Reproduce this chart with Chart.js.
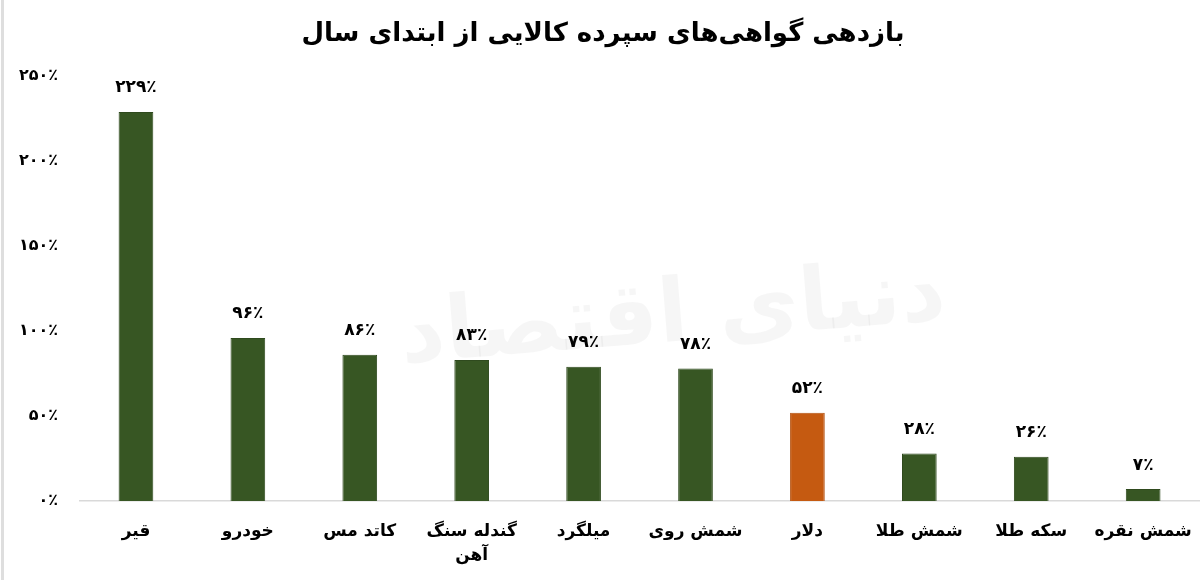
<!DOCTYPE html>
<html lang="fa">
<head>
<meta charset="utf-8">
<script src="https://cdn.jsdelivr.net/npm/chart.js@4.4.1/dist/chart.umd.min.js"></script>
<style>
  html, body { margin: 0; padding: 0; background: #ffffff; overflow: hidden; }
  #wrap { position: absolute; left: 0; top: 0; width: 1210px; height: 580px; }
</style>
</head>
<body>
<div id="wrap"><canvas id="c"></canvas></div>
<script>
// ---- data ----
const chartTitle = 'بازدهی گواهی‌های سپرده کالایی از ابتدای سال';
const categories = ['قیر', 'خودرو', 'کاتد مس', ['گندله سنگ', 'آهن'], 'میلگرد', 'شمش روی', 'دلار', 'شمش طلا', 'سکه طلا', 'شمش نقره'];
const values = [229, 96, 86, 83, 79, 78, 52, 28, 26, 7];
const highlightCategory = 'دلار';
const yTickValues = [0, 50, 100, 150, 200, 250];
const watermarkText = 'دنیای اقتصاد';

// ---- helpers ----
const FA_DIGITS = '۰۱۲۳۴۵۶۷۸۹';
function toFa(n) { return String(n).replace(/\d/g, d => FA_DIGITS[d]); }
function pct(n) { return toFa(n) + '٪'; }

const FONT = "'DejaVu Sans', 'Noto Sans', sans-serif";
const GREEN = '#375623';
const ORANGE = '#C55A11';

const barColors = categories.map(c => (c === highlightCategory ? ORANGE : GREEN));
const barBorders = categories.map(c => (c === highlightCategory ? '#b2500f' : '#2f4a1e'));

const decorPlugin = {
  id: 'decor',
  beforeDraw(chart) {
    const ctx = chart.ctx;
    ctx.save();
    ctx.fillStyle = '#ffffff';
    ctx.fillRect(0, 0, chart.width, chart.height);
    ctx.fillStyle = '#dedede';
    ctx.fillRect(1, 0, 3, chart.height);
    ctx.restore();
  },
  beforeDatasetsDraw(chart) {
    const ctx = chart.ctx;
    const a = chart.chartArea;
    ctx.save();
    ctx.fillStyle = 'rgba(0,0,0,0.035)';
    ctx.font = "bold 88px " + FONT;
    ctx.textAlign = 'center';
    ctx.textBaseline = 'middle';
    ctx.translate(a.left + (a.right - a.left) * 0.53, a.top + (a.bottom - a.top) * 0.57);
    ctx.rotate(-0.08);
    ctx.fillText(watermarkText, 0, 0);
    ctx.restore();
  }
};

const valueLabelPlugin = {
  id: 'valueLabels',
  afterDatasetsDraw(chart) {
    const ctx = chart.ctx;
    const meta = chart.getDatasetMeta(0);
    ctx.save();
    ctx.fillStyle = '#000000';
    ctx.font = "bold 17px " + FONT;
    ctx.textAlign = 'center';
    ctx.textBaseline = 'middle';
    meta.data.forEach((bar, i) => {
      ctx.fillText(pct(chart.data.datasets[0].data[i]), bar.x, bar.y - 24);
    });
    ctx.restore();
  }
};

new Chart(document.getElementById('c'), {
  type: 'bar',
  data: {
    labels: categories,
    datasets: [{
      data: values,
      backgroundColor: barColors,
      borderColor: barBorders,
      borderWidth: 1,
      categoryPercentage: 1.0,
      barPercentage: 0.31
    }]
  },
  options: {
    responsive: true,
    maintainAspectRatio: false,
    animation: false,
    devicePixelRatio: 1,
    layout: { padding: { left: 0, right: 4, top: 0, bottom: 0 } },
    plugins: {
      legend: { display: false },
      tooltip: { enabled: false },
      title: {
        display: true,
        text: chartTitle,
        color: '#000000',
        font: { family: FONT, size: 26, weight: 'bold', lineHeight: 1.2 },
        padding: { top: 19, bottom: 26 }
      }
    },
    scales: {
      x: {
        grid: { display: false, drawTicks: false },
        border: { display: true, color: '#d9d9d9', width: 1.5 },
        ticks: {
          color: '#000000',
          font: { family: FONT, size: 17, weight: 'bold', lineHeight: 1.45 },
          padding: 18,
          maxRotation: 0,
          autoSkip: false
        },
        afterFit(scale) { scale.height = 79; }
      },
      y: {
        min: 0,
        max: 250,
        afterBuildTicks(scale) { scale.ticks = yTickValues.map(v => ({ value: v })); },
        grid: { display: false, drawTicks: false },
        border: { display: false },
        ticks: {
          color: '#000000',
          font: { family: FONT, size: 16, weight: 'bold' },
          padding: 22,
          callback: v => pct(v)
        },
        afterFit(scale) { scale.width = 80; }
      }
    }
  },
  plugins: [decorPlugin, valueLabelPlugin]
});
</script>
</body>
</html>
